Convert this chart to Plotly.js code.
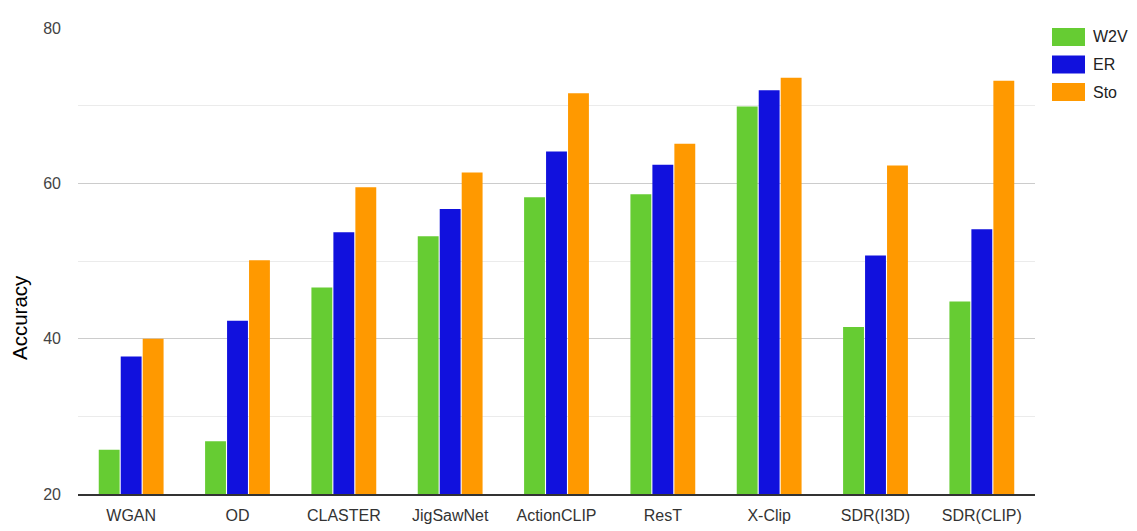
<!DOCTYPE html>
<html>
<head>
<meta charset="utf-8">
<script src="https://cdn.plot.ly/plotly-3.0.1.min.js"></script>
<style>
  html, body { margin: 0; padding: 0; background: #fff; }
  #chart { width: 1137px; height: 531px; }
</style>
</head>
<body>
<div id="chart"></div>
<script>
// Methods on the x axis
const methods = ['WGAN', 'OD', 'CLASTER', 'JigSawNet', 'ActionCLIP', 'ResT', 'X-Clip', 'SDR(I3D)', 'SDR(CLIP)'];

// Accuracy per embedding
const w2v = [25.7, 26.8, 46.6, 53.2, 58.2, 58.6, 69.9, 41.5, 44.8];
const er  = [37.7, 42.3, 53.7, 56.7, 64.1, 62.4, 72.0, 50.7, 54.1];
const sto = [40.0, 50.1, 59.5, 61.4, 71.6, 65.1, 73.6, 62.3, 73.2];

const seriesNames = ['W2V', 'ER', 'Sto'];
const seriesColors = ['#66cc33', '#1111dd', '#ff9900'];

const traces = [w2v, er, sto].map((vals, i) => ({
    type: 'bar',
    x: methods,
    y: vals,
    name: seriesNames[i],
    marker: { color: seriesColors[i] },
    hovertemplate: '%{x}: %{y}<extra>' + seriesNames[i] + '</extra>'
}));

// Legend drawn by hand so the swatches are wide boxes like the original
const W = 1137, H = 531;
const shapes = [];
const annotations = [];
seriesNames.forEach((name, i) => {
    const cy = 37 + i * 27.5;
    shapes.push({
        type: 'rect', xref: 'paper', yref: 'paper', layer: 'above',
        x0: (1052 - 78) / (W - 78 - 102), x1: (1085 - 78) / (W - 78 - 102),
        y0: (H - 37 - (cy + 9)) / (H - 28 - 37), y1: (H - 37 - (cy - 9)) / (H - 28 - 37),
        fillcolor: seriesColors[i], line: { width: 0 }
    });
    annotations.push({
        xref: 'paper', yref: 'paper', showarrow: false,
        x: (1091 - 78) / (W - 78 - 102), xanchor: 'left',
        y: (H - 37 - cy) / (H - 28 - 37), yanchor: 'middle',
        text: name, font: { size: 16, color: '#222' }
    });
});

// Y axis title, placed like the original (below centre)
annotations.push({
    xref: 'paper', yref: 'paper', showarrow: false,
    x: (20 - 78) / (W - 78 - 102), xanchor: 'center',
    y: (H - 37 - 318) / (H - 28 - 37), yanchor: 'middle',
    textangle: -90,
    text: 'Accuracy', font: { size: 20.5, color: '#000' }
});

const layout = {
    width: W,
    height: H,
    plot_bgcolor: '#ffffff',
    paper_bgcolor: '#ffffff',
    font: { family: 'Liberation Sans, Arial, sans-serif', size: 16, color: '#444' },
    margin: { l: 78, r: 102, t: 28, b: 37 },
    barmode: 'group',
    bargap: 0.38,
    bargroupgap: 0.05,
    showlegend: false,
    xaxis: {
        showline: true,
        linecolor: '#333',
        linewidth: 1.5,
        ticks: '',
        ticklabelstandoff: 6,
        tickfont: { size: 16, color: '#333' }
    },
    yaxis: {
        range: [20, 80],
        tickvals: [20, 40, 60, 80],
        showgrid: true,
        gridcolor: '#cccccc',
        zeroline: false,
        tickfont: { size: 16, color: '#444' },
        ticklen: 0,
        ticklabelstandoff: 16,
        minor: { dtick: 10, tick0: 20, showgrid: true, gridcolor: '#ebebeb' }
    },
    shapes: shapes,
    annotations: annotations
};

Plotly.newPlot('chart', traces, layout, { displayModeBar: false, responsive: false });
</script>
</body>
</html>
